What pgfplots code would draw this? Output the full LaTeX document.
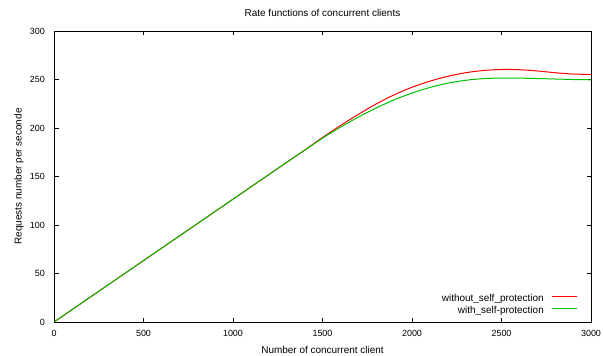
\documentclass[border=0pt]{standalone}
\usepackage{fontspec}
\setmainfont{Liberation Sans}
\usepackage{pgfplots}
\pgfplotsset{compat=1.18}

\definecolor{gpred}{RGB}{255,0,0}
\definecolor{gpgreen}{RGB}{0,192,0}

\begin{document}
\begin{tikzpicture}
\begin{axis}[
  scale only axis,
  width=537bp, height=291bp,
  xmin=0, xmax=3000, ymin=0, ymax=300,
  xtick={0,500,...,3000}, ytick={0,50,...,300},
  tick align=inside, tick pos=both,
  major tick length=4.5bp,
  axis line style={line width=0.9bp},
  every tick/.style={black, line width=0.7bp},
  font=\fontsize{10}{11}\selectfont,
  tick label style={font=\fontsize{9}{10}\selectfont},
  /pgf/number format/assume math mode=true,
  /pgf/number format/1000 sep={},
  xticklabel style={anchor=center, yshift=-11bp},
  yticklabel style={anchor=east, inner sep=0pt, xshift=-9bp},
  title={Rate functions of concurrent clients},
  every axis title/.style={at={(rel axis cs:0.5,1)}, anchor=center, yshift=18bp},
  xlabel={Number of concurrent client},
  ylabel={Requests number per seconde},
  every axis x label/.style={at={(rel axis cs:0.5,0)}, anchor=center, yshift=-28bp},
  every axis y label/.style={at={([xshift=-35bp]rel axis cs:0,0.5)}, anchor=center, rotate=90},
  legend plot pos=right,
  legend cell align=right,
  legend style={draw=none, fill=none, at={(rel axis cs:1,0)}, anchor=south east,
    xshift=-13bp, yshift=6bp, inner sep=0pt, column sep=8bp, row sep=3bp,
    nodes={inner sep=0pt, text height=7bp, text depth=2bp},
    font=\fontsize{10}{11}\selectfont},
]
\addlegendimage{draw=gpred, line width=1bp, legend image code/.code={\draw[draw=gpred, line width=1bp] (0bp,2.5bp) -- (25bp,2.5bp);}}
\addlegendentry{without\_self\_protection}
\addlegendimage{draw=gpgreen, line width=1bp, legend image code/.code={\draw[draw=gpgreen, line width=1bp] (0bp,2.5bp) -- (25bp,2.5bp);}}
\addlegendentry{with\_self-protection}
\addplot[draw=gpred, line width=1bp, smooth, tension=0.5, forget plot] coordinates {
  (0,0) (500,63.3) (1000,126.6) (1300,164.6) (1400,177.2) (1500,190.2)
  (1600,202.5) (1700,214) (1800,224.8) (1900,234.2) (2000,242)
  (2100,248.3) (2200,253.3) (2300,257) (2400,259.3) (2500,260.3)
  (2600,260.1) (2700,258.8) (2800,257) (2900,255.6) (3000,255.3)
};
\addplot[draw=gpgreen, line width=1bp, smooth, tension=0.5, forget plot] coordinates {
  (0,0) (500,63.3) (1000,126.6) (1300,164.6) (1400,177) (1500,189.5)
  (1600,200.8) (1700,211.2) (1800,220.6) (1900,229) (2000,236)
  (2100,241.8) (2200,246.2) (2300,249.2) (2400,250.9) (2500,251.5)
  (2600,251.4) (2700,251) (2800,250.5) (2900,250) (3000,249.7)
};
\coordinate (bl) at (rel axis cs:0,0);
\end{axis}
\pgfresetboundingbox
\path[use as bounding box] (bl) ++(-54bp,-34bp) rectangle ++(603bp,356bp);
\end{tikzpicture}
\end{document}
